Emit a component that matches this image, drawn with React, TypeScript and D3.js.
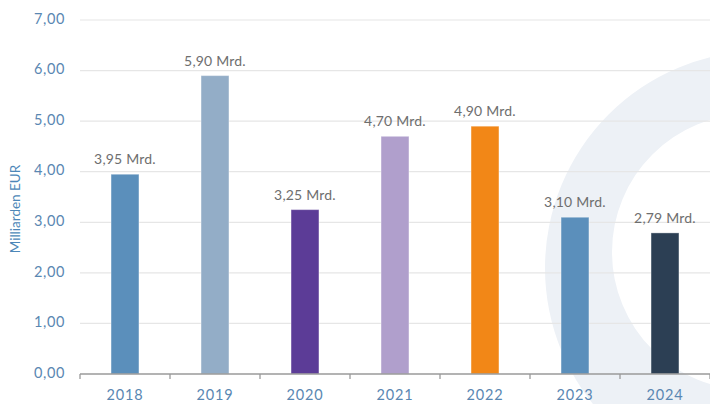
import React from "react";
import * as d3 from "d3";

const categories = ["2018", "2019", "2020", "2021", "2022", "2023", "2024"];
const values = [3.95, 5.9, 3.25, 4.7, 4.9, 3.1, 2.79];
const barLabels = ["3,95 Mrd.", "5,90 Mrd.", "3,25 Mrd.", "4,70 Mrd.", "4,90 Mrd.", "3,10 Mrd.", "2,79 Mrd."];
const barColors = ["#5b8fbb", "#93adc7", "#5c3c97", "#b09fcc", "#f28717", "#5b8fbb", "#2c3f54"];
const yTicks = [0, 1, 2, 3, 4, 5, 6, 7];
const yTitle = "Milliarden EUR";

const W = 710;
const H = 404;
const left = 80;
const right = 710;
const top = 20;
const bottom = 374;
const FONT = "Lato, 'Open Sans', sans-serif";

export default function App() {
  const x = d3.scaleBand<string>().domain(categories).range([left, right]).paddingInner(0.69).paddingOuter(0.345);
  const band = d3.scaleBand<string>().domain(categories).range([left, right]);
  const y = d3.scaleLinear().domain([0, 7]).range([bottom, top]);
  const fmt = (v: number) => v.toFixed(2).replace(".", ",");

  const ring = d3.path();
  ring.moveTo(762 + 217, 268);
  ring.arc(762, 268, 217, 0, Math.PI * 2);
  ring.closePath();
  ring.moveTo(750 + 138, 252);
  ring.arc(750, 252, 138, 0, Math.PI * 2);
  ring.closePath();

  const boundaries = [left, ...categories.map((c) => (band(c) as number) + band.bandwidth())];

  return (
    <svg
      width={W}
      height={H}
      style={{ position: "absolute", left: 0, top: 0, display: "block", background: "#fff" }}
    >
      <path d={ring.toString()} fill="#edf1f6" fillRule="evenodd" />
      {yTicks.slice(1).map((t) => (
        <line key={t} x1={left} x2={right} y1={y(t)} y2={y(t)} stroke="#e6e6e6" strokeWidth={1.2} />
      ))}
      {yTicks.map((t) => (
        <text
          key={"yl" + t}
          x={65}
          y={y(t)}
          textAnchor="end"
          dominantBaseline="middle"
          fontFamily={FONT}
          fontSize={14.5}
          letterSpacing={0.6}
          fill="#5a87b2"
        >
          {fmt(t)}
        </text>
      ))}
      <text
        transform={`translate(20,209) rotate(-90)`}
        textAnchor="middle"
        fontFamily={FONT}
        fontSize={13.5}
        fill="#4d87b8"
      >
        {yTitle}
      </text>
      {categories.map((c, i) => (
        <rect
          key={"b" + c}
          x={x(c)}
          y={y(values[i])}
          width={x.bandwidth()}
          height={bottom - y(values[i])}
          fill={barColors[i]}
          stroke="#ffffff"
          strokeOpacity={0.35}
          strokeWidth={1}
        />
      ))}
      {categories.map((c, i) => (
        <text
          key={"t" + c}
          x={(x(c) as number) + x.bandwidth() / 2}
          y={y(values[i]) - 10}
          textAnchor="middle"
          fontFamily={FONT}
          fontSize={14}
          letterSpacing={0.2}
          fill="#6e6e6e"
        >
          {barLabels[i]}
        </text>
      ))}
      <line x1={left} x2={right} y1={bottom} y2={bottom} stroke="#9a9a9a" strokeWidth={1.3} />
      {boundaries.map((bx, i) => (
        <line key={"tk" + i} x1={bx} x2={bx} y1={bottom} y2={bottom + 5} stroke="#9a9a9a" strokeWidth={1.3} />
      ))}
      {categories.map((c) => (
        <text
          key={"xl" + c}
          x={(band(c) as number) + band.bandwidth() / 2}
          y={400}
          textAnchor="middle"
          fontFamily={FONT}
          fontSize={14.5}
          letterSpacing={0.9}
          fill="#5a87b2"
        >
          {c}
        </text>
      ))}
    </svg>
  );
}
